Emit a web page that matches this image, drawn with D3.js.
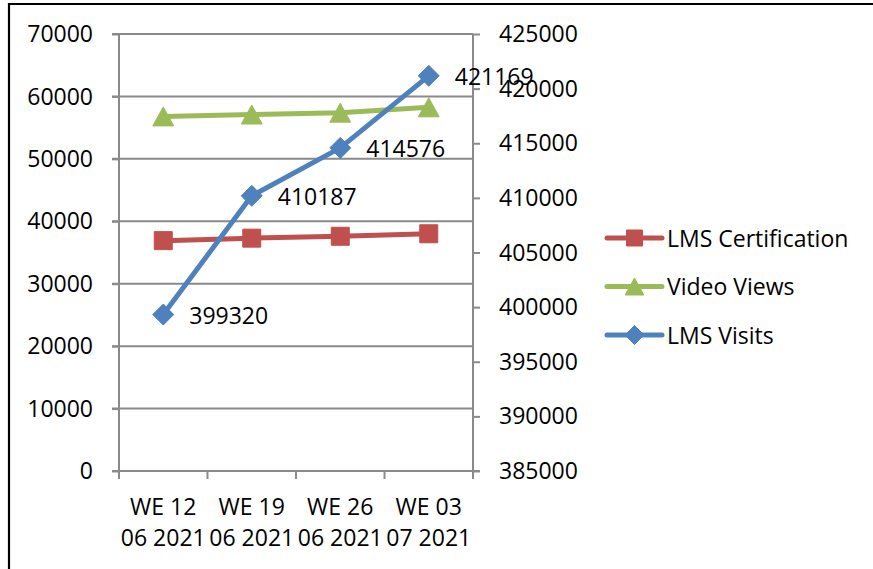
<!DOCTYPE html>
<html>
<head>
<meta charset="utf-8">
<script src="https://cdn.jsdelivr.net/npm/d3@7"></script>
<style>
  html, body { margin: 0; padding: 0; background: #fff; }
  svg { display: block; font-family: "Open Sans", sans-serif; }
</style>
</head>
<body>
<svg id="chart" width="873" height="569"></svg>
<script>
// ---- data ----
const categories = ["WE 12 06 2021", "WE 19 06 2021", "WE 26 06 2021", "WE 03 07 2021"];
const categoryLines = [["WE 12", "06 2021"], ["WE 19", "06 2021"], ["WE 26", "06 2021"], ["WE 03", "07 2021"]];
const lmsCertification = [36900, 37300, 37600, 38000];
const videoViews = [56800, 57100, 57400, 58250];
const lmsVisits = [399320, 410187, 414576, 421169];
const leftTicks = [0, 10000, 20000, 30000, 40000, 50000, 60000, 70000];
const rightTicks = [385000, 390000, 395000, 400000, 405000, 410000, 415000, 420000, 425000];
const seriesNames = ["LMS Certification", "Video Views", "LMS Visits"];

// ---- layout ----
const W = 873, H = 569;
const plot = { left: 119, right: 473, top: 34, bottom: 471 };
const fontSize = 23;
const gridColor = "#8a8a8a";
const colors = { cert: "#C0504D", video: "#9BBB59", visits: "#4F81BD" };

const svg = d3.select("#chart");

// frame
svg.append("path")
  .attr("d", `M9,${H} L9,4 L${W},4`)
  .attr("fill", "none").attr("stroke", "#000").attr("stroke-width", 2.2);

const x = d3.scaleBand().domain(categories).range([plot.left, plot.right]).padding(0);
const yL = d3.scaleLinear().domain([0, 70000]).range([plot.bottom, plot.top]);
const yR = d3.scaleLinear().domain([385000, 425000]).range([plot.bottom, plot.top]);
const cx = c => x(c) + x.bandwidth() / 2;

// gridlines
svg.append("g").selectAll("line").data(leftTicks.filter(t => t > 0)).join("line")
  .attr("x1", plot.left - 7).attr("x2", plot.right)
  .attr("y1", d => yL(d)).attr("y2", d => yL(d))
  .attr("stroke", gridColor).attr("stroke-width", 2);

// left axis
const leftAxis = d3.axisLeft(yL).tickValues(leftTicks).tickSize(7).tickPadding(20).tickFormat(d3.format("d"));
const gL = svg.append("g").attr("transform", `translate(${plot.left},0)`).call(leftAxis);
gL.select(".domain").attr("stroke", gridColor).attr("stroke-width", 2).attr("d", `M0,${plot.top}V${plot.bottom}`);
gL.selectAll(".tick line").attr("stroke", gridColor).attr("stroke-width", 2);
gL.selectAll(".tick text").attr("font-size", fontSize).attr("font-family", "Open Sans").attr("fill", "#000")
  .attr("dy", "0.33em").attr("x", -26);

// right axis
const rightAxis = d3.axisRight(yR).tickValues(rightTicks).tickSize(7).tickPadding(20).tickFormat(d3.format("d"));
const gR = svg.append("g").attr("transform", `translate(${plot.right},0)`).call(rightAxis);
gR.select(".domain").attr("stroke", gridColor).attr("stroke-width", 2).attr("d", `M0,${plot.top}V${plot.bottom}`);
gR.selectAll(".tick line").attr("stroke", gridColor).attr("stroke-width", 2);
gR.selectAll(".tick text").attr("font-size", fontSize).attr("font-family", "Open Sans").attr("fill", "#000")
  .attr("dy", "0.33em").attr("x", 26);

// bottom axis
const bottomAxis = d3.axisBottom(x).tickSize(0).tickFormat("");
const gB = svg.append("g").attr("transform", `translate(0,${plot.bottom})`).call(bottomAxis);
gB.select(".domain").attr("stroke", gridColor).attr("stroke-width", 2).attr("d", `M${plot.left - 7},0H${plot.right + 7}`);
// category boundary ticks
const boundaries = categories.map(c => x(c)).concat([plot.right]);
gB.selectAll("line.bt").data(boundaries).join("line").attr("class", "bt")
  .attr("x1", d => d).attr("x2", d => d).attr("y1", 0).attr("y2", 8)
  .attr("stroke", gridColor).attr("stroke-width", 2);
// category labels (two lines)
const catText = svg.append("g").selectAll("text").data(categories).join("text")
  .attr("x", d => cx(d)).attr("y", 515)
  .attr("text-anchor", "middle").attr("font-size", fontSize).attr("fill", "#000");
catText.each(function(d, i) {
  const t = d3.select(this);
  categoryLines[i].forEach((ln, j) => {
    t.append("tspan").attr("x", cx(d)).attr("y", 515 + j * 31).text(ln);
  });
});

// series
const series = [
  { name: seriesNames[0], values: lmsCertification, scale: yL, color: colors.cert, marker: "square" },
  { name: seriesNames[1], values: videoViews, scale: yL, color: colors.video, marker: "triangle" },
  { name: seriesNames[2], values: lmsVisits, scale: yR, color: colors.visits, marker: "diamond" }
];

function markerPath(type, s) {
  const h = s / 2;
  if (type === "square") return `M${-h},${-h}H${h}V${h}H${-h}Z`;
  if (type === "triangle") return `M0,${-h * 1.0}L${h * 1.1},${h}L${-h * 1.1},${h}Z`;
  return `M0,${-h}L${h},0L0,${h}L${-h},0Z`;
}
const markerSize = { square: 18, triangle: 19, diamond: 21 };

series.forEach(s => {
  const line = d3.line().x((d, i) => cx(categories[i])).y(d => s.scale(d));
  svg.append("path").datum(s.values).attr("d", line)
    .attr("fill", "none").attr("stroke", s.color).attr("stroke-width", 5)
    .attr("stroke-linejoin", "round").attr("stroke-linecap", "round");
  svg.append("g").selectAll("path").data(s.values).join("path")
    .attr("transform", (d, i) => `translate(${cx(categories[i])},${s.scale(d)})`)
    .attr("d", markerPath(s.marker, markerSize[s.marker]))
    .attr("fill", s.color).attr("stroke", s.color).attr("stroke-width", 1);
});

// data labels for LMS Visits
svg.append("g").selectAll("text").data(lmsVisits).join("text")
  .attr("x", (d, i) => cx(categories[i]) + 26)
  .attr("y", d => yR(d) + 9)
  .attr("font-size", fontSize).attr("fill", "#000")
  .text(d => d);

// legend
const legend = svg.append("g");
const legendY0 = 238, legendStep = 48.5, legendX0 = 607, legendX1 = 662;
series.forEach((s, i) => {
  const ly = legendY0 + i * legendStep;
  legend.append("line").attr("x1", legendX0).attr("x2", legendX1).attr("y1", ly).attr("y2", ly)
    .attr("stroke", s.color).attr("stroke-width", 5).attr("stroke-linecap", "round");
  legend.append("path").attr("transform", `translate(${(legendX0 + legendX1) / 2},${ly})`)
    .attr("d", markerPath(s.marker, markerSize[s.marker] - 2))
    .attr("fill", s.color).attr("stroke", s.color).attr("stroke-width", 1);
  legend.append("text").attr("x", 667).attr("y", ly + 8.5)
    .attr("font-size", fontSize).attr("fill", "#000").text(s.name);
});
</script>
</body>
</html>
